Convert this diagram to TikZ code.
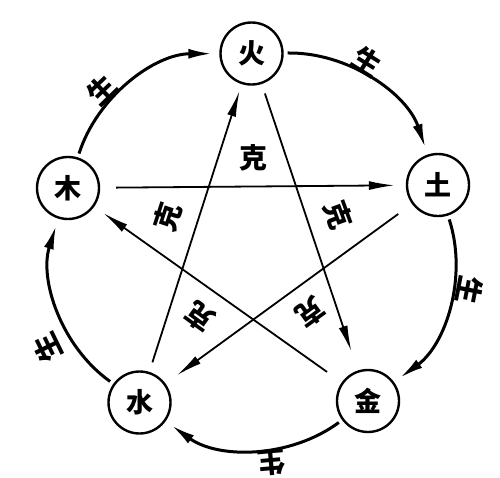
\documentclass[tikz,border=0pt]{standalone}
\usepackage{fontspec}
\newfontfamily\cjk{Noto Sans CJK SC}
\usetikzlibrary{arrows.meta}
\begin{document}
\begin{tikzpicture}[x=1pt,y=1pt,
  elem/.style={circle,draw,line width=2.4pt,minimum size=62pt,inner sep=0pt,font=\cjk\bfseries\fontsize{27}{27}\selectfont},
  sheng/.style={line width=3pt,-{Latex[length=24pt,width=10pt]},bend left=36,looseness=0.94},
  ke/.style={line width=1.8pt,-{Latex[length=26pt,width=9pt]}},
  lab/.style={font=\cjk\bfseries\fontsize{28}{28}\selectfont,inner sep=0pt}]
\useasboundingbox[fill=white] (0,0) rectangle (500,-477);
% elements
\node[elem] (huo)  at (251.5,-53.5) {火};
\node[elem] (tu)   at (438,-185)    {土};
\node[elem] (mu)   at (68,-188)     {木};
\node[elem] (shui) at (139.5,-402.5){水};
\node[elem] (jin)  at (368,-401)    {金};
% sheng cycle
\draw[sheng,shorten <=4pt,shorten >=7pt] (mu) to (huo);
\draw[sheng,shorten <=4pt,shorten >=7pt] (huo) to (tu);
\draw[sheng,shorten <=4pt,shorten >=7pt] (tu) to (jin);
\draw[sheng,shorten <=4pt,shorten >=7pt] (jin) to (shui);
\draw[sheng,shorten <=4pt,shorten >=7pt] (shui) to (mu);
% ke star
\draw[ke,shorten <=16pt,shorten >=11pt] (mu) -- (tu);
\draw[ke,shorten <=10pt,shorten >=20pt] (huo) -- (jin);
\draw[ke,shorten <=17pt,shorten >=14pt] (tu) -- (shui);
\draw[ke,shorten <=18pt,shorten >=11pt] (jin) -- (mu);
\draw[ke,shorten <=10pt,shorten >=7pt] (shui) -- (huo);
% ke labels
\node[lab] (k1) at (253,-158) {克};
\node[lab,rotate=-70] (k2) at (338,-215) {克};
\node[lab,rotate=-144] (k3) at (310,-312) {克};
\node[lab,rotate=144] (k4) at (200,-317) {克};
\node[lab,rotate=72] (k5) at (168,-217) {克};
% sheng labels
\node[lab,rotate=44] (s1) at (102,-90) {生};
\node[lab,rotate=-32] (s2) at (367,-62) {生};
\node[lab,rotate=-101] (s3) at (470,-290) {生};
\node[lab,rotate=-175] (s4) at (272,-463) {生};
\node[lab,rotate=116] (s5) at (47,-348) {生};
\end{tikzpicture}
\end{document}
